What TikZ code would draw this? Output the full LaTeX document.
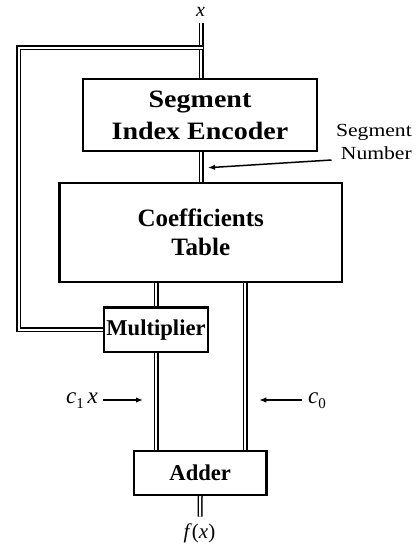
\documentclass[tikz,border=0pt]{standalone}
\usepackage{fontspec}
\setmainfont{Liberation Serif}
\newfontfamily\widefont[FakeStretch=1.12]{Liberation Serif}
\newfontfamily\labelfont[FakeStretch=1.17]{Liberation Serif}
\usetikzlibrary{arrows.meta}
\pgfdeclarelayer{bg}
\pgfsetlayers{bg,main}
\begin{document}
\begin{tikzpicture}[x=1pt,y=-1pt,
  blk/.style={draw, line width=2.3pt, inner sep=0pt},
  bus/.style={double, double distance=2pt, line width=1.5pt},
  lbl/.style={-{Latex[length=7pt,width=5.5pt]}, line width=1.5pt},
  txt/.style={inner sep=0pt}]
\useasboundingbox (0,0) rectangle (418,546);
% blocks
\node[blk, minimum width=234pt, minimum height=72pt, align=center,
  font=\widefont\bfseries\fontsize{25}{32}\selectfont] (sie) at (200,115) {Segment\\Index Encoder};
\node[blk, minimum width=282.5pt, minimum height=99pt, align=center,
  font=\bfseries\fontsize{25}{28.5}\selectfont] (coef) at (200.75,232.5) {Coefficients\\Table};
\node[blk, minimum width=104pt, minimum height=44.5pt,
  font=\bfseries\fontsize{22.6}{26}\selectfont] (mul) at (156,329.75) {Multiplier};
\node[blk, minimum width=132.5pt, minimum height=44pt,
  font=\bfseries\fontsize{22.6}{26}\selectfont] (add) at (200.25,473) {Adder};
% coordinates
\coordinate (xin) at (201,22.7);
\coordinate (tap) at (203,47.7);
\coordinate (lc) at (18.75,47.7);
\coordinate (rb) at (245.2,300);
\coordinate (fout) at (200,516.7);
% buses
\begin{pgfonlayer}{bg}
\draw[bus] (xin) -- (xin |- sie.north);
\draw[bus] (tap) -- (lc) |- (mul.west);
\draw[bus] (sie.south -| xin) -- (coef.north -| xin);
\draw[bus] (coef.south -| mul.north) -- (mul.north);
\draw[bus] (mul.south) -- (mul.south |- add.north);
\draw[bus] (coef.south -| rb) -- (add.north -| rb);
\draw[bus] (add.south) -- (fout);
\end{pgfonlayer}
% labels
\node[txt, font=\itshape\fontsize{20}{22}\selectfont] (xl) at (200.5,11.5) {x};
\node[txt, font=\fontsize{21}{24}\selectfont] (fl) at (199.5,533) {\textit{f}(\textit{x})};
\node[txt, font=\labelfont\fontsize{18.5}{23}\selectfont, align=right, anchor=east] (segn) at (412,141.7) {Segment\\Number};
\coordinate (sa) at (331.5,160);
\coordinate (se) at (208,167.7);
\draw[lbl] (sa) -- (se);
\node[txt, font=\fontsize{23}{25}\selectfont, anchor=base east] (c1) at (98,403.3) {\textit{c}\raisebox{-0.22em}{\fontsize{15}{16}\selectfont 1}\,\textit{x}};
\coordinate (c1a) at (103.3,400);
\coordinate (c1b) at (143,400);
\draw[lbl] (c1a) -- (c1b);
\node[txt, font=\fontsize{23}{25}\selectfont, anchor=base west] (c0) at (308,403.3) {\textit{c}\raisebox{-0.22em}{\fontsize{15}{16}\selectfont 0}};
\coordinate (c0a) at (301.7,400);
\coordinate (c0b) at (259.3,400);
\draw[lbl] (c0a) -- (c0b);
\end{tikzpicture}
\end{document}
